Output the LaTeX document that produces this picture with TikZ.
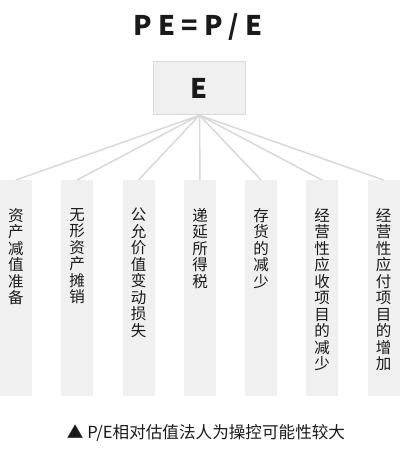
\documentclass[tikz,border=0pt]{standalone}
\usepackage{fontspec}
\newfontfamily\cjk{Noto Sans CJK SC}
\definecolor{boxfill}{HTML}{F0F0F0}
\definecolor{boxline}{HTML}{D9D9D9}
\definecolor{ink}{HTML}{1A1A1A}
\begin{document}
\begin{tikzpicture}[x=1pt,y=-1pt,
  conn/.style={draw=boxline,line width=1.5pt},
  colbox/.style={fill=boxfill,draw=none,minimum width=32pt,minimum height=216pt,inner sep=0pt,anchor=north},
  coltext/.style={font=\cjk\fontsize{15.5}{16.5}\selectfont,text=ink,align=center,inner sep=0pt,anchor=north},
  ebox/.style={fill=boxfill,draw=boxline,line width=1.5pt,minimum width=92pt,minimum height=53pt,inner sep=0pt}]
\useasboundingbox[fill=white] (0,0) rectangle (400,450);
\node[font=\cjk\bfseries\fontsize{27}{30}\selectfont,text=ink] (title) at (198,27) {P E = P / E};
\node[ebox,font=\cjk\bfseries\fontsize{27}{30}\selectfont,text=ink] (E) at (199.5,88) {E};
\foreach \i/\x in {1/16,2/77,3/138.5,4/200,5/261,6/322,7/383.5}{
  \node[colbox] (c\i) at (\x,180) {};
  \draw[conn] (E.south) -- (c\i.north);
}
\node[coltext] (t1) at (16,208) {资\\产\\减\\值\\准\\备};
\node[coltext] (t2) at (77,208) {无\\形\\资\\产\\摊\\销};
\node[coltext] (t3) at (138.5,208) {公\\允\\价\\值\\变\\动\\损\\失};
\node[coltext] (t4) at (200,208) {递\\延\\所\\得\\税};
\node[coltext] (t5) at (261,208) {存\\货\\的\\减\\少};
\node[coltext] (t6) at (322,208) {经\\营\\性\\应\\收\\项\\目\\的\\减\\少};
\node[coltext] (t7) at (383.5,208) {经\\营\\性\\应\\付\\项\\目\\的\\增\\加};
\node[font=\cjk\fontsize{16.6}{19}\selectfont,text=ink] (cap) at (206,433) {▲ P/E相对估值法人为操控可能性较大};
\end{tikzpicture}
\end{document}
